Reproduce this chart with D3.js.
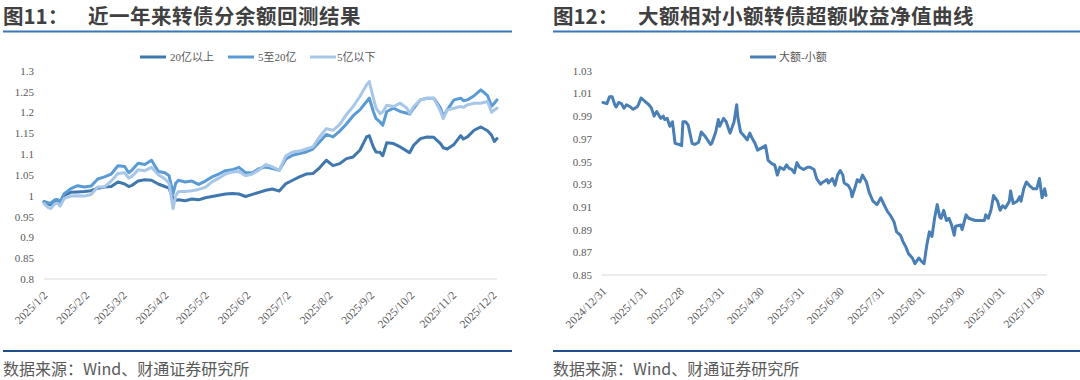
<!DOCTYPE html>
<html><head><meta charset="utf-8">
<script src="https://cdn.jsdelivr.net/npm/d3@7"></script>
<style>
html,body{margin:0;padding:0;background:#fff;}
svg{display:block;}
</style></head>
<body>
<svg id="c" width="1080" height="380"></svg>
<script>
// ---------- Left chart data (图11) ----------
const leftDates = ["2025/1/2","2025/1/5","2025/1/7","2025/1/10","2025/1/12","2025/1/14","2025/1/17","2025/1/22","2025/1/27","2025/2/1","2025/2/6","2025/2/11","2025/2/16","2025/2/21","2025/2/26","2025/3/3","2025/3/6","2025/3/8","2025/3/13","2025/3/18","2025/3/23","2025/3/28","2025/4/2","2025/4/5","2025/4/8","2025/4/10","2025/4/12","2025/4/17","2025/4/22","2025/4/27","2025/5/2","2025/5/7","2025/5/12","2025/5/17","2025/5/22","2025/5/27","2025/6/1","2025/6/6","2025/6/11","2025/6/16","2025/6/21","2025/6/26","2025/7/1","2025/7/6","2025/7/11","2025/7/16","2025/7/21","2025/7/26","2025/7/31","2025/8/5","2025/8/10","2025/8/15","2025/8/20","2025/8/25","2025/8/30","2025/9/1","2025/9/4","2025/9/6","2025/9/9","2025/9/11","2025/9/14","2025/9/19","2025/9/24","2025/9/29","2025/10/1","2025/10/4","2025/10/9","2025/10/14","2025/10/19","2025/10/24","2025/10/26","2025/10/29","2025/11/3","2025/11/8","2025/11/10","2025/11/13","2025/11/18","2025/11/23","2025/11/28","2025/12/1","2025/12/3","2025/12/5"];
const seriesAbove20 = [0.985,0.980,0.978,0.988,0.990,0.984,1.001,1.008,1.009,1.010,1.012,1.018,1.021,1.022,1.033,1.028,1.022,1.024,1.035,1.038,1.037,1.028,1.022,1.018,0.993,0.989,0.990,0.988,0.992,0.990,0.995,0.998,1.001,1.004,1.005,1.004,0.998,1.003,1.008,1.013,1.016,1.011,1.029,1.037,1.045,1.052,1.053,1.067,1.085,1.072,1.077,1.089,1.093,1.109,1.141,1.144,1.117,1.105,1.104,1.096,1.127,1.125,1.117,1.107,1.103,1.121,1.137,1.141,1.140,1.125,1.115,1.112,1.123,1.144,1.136,1.141,1.157,1.165,1.156,1.145,1.130,1.137];
const series5to20 = [0.986,0.983,0.982,0.990,0.991,0.985,1.005,1.017,1.024,1.021,1.023,1.040,1.045,1.052,1.072,1.070,1.055,1.060,1.078,1.075,1.085,1.058,1.055,1.048,1.005,1.030,1.037,1.033,1.035,1.027,1.035,1.045,1.052,1.060,1.062,1.068,1.055,1.055,1.065,1.069,1.065,1.061,1.088,1.097,1.101,1.105,1.112,1.129,1.147,1.141,1.155,1.172,1.192,1.206,1.226,1.234,1.202,1.185,1.177,1.169,1.202,1.210,1.202,1.198,1.196,1.210,1.230,1.234,1.234,1.210,1.190,1.206,1.230,1.234,1.228,1.230,1.240,1.254,1.240,1.215,1.222,1.230];
const seriesBelow5 = [0.981,0.972,0.969,0.980,0.982,0.975,0.993,0.999,1.000,0.999,1.003,1.021,1.021,1.035,1.053,1.055,1.042,1.045,1.062,1.060,1.068,1.050,1.040,1.030,0.969,1.000,1.010,1.010,1.012,1.015,1.020,1.033,1.042,1.052,1.057,1.058,1.048,1.052,1.062,1.075,1.069,1.061,1.096,1.105,1.107,1.112,1.117,1.141,1.161,1.157,1.171,1.195,1.214,1.238,1.266,1.274,1.234,1.210,1.197,1.201,1.217,1.214,1.222,1.210,1.198,1.214,1.230,1.234,1.234,1.202,1.185,1.206,1.210,1.214,1.212,1.218,1.222,1.222,1.226,1.200,1.206,1.210];
const leftSeriesNames = ["20亿以上","5至20亿","5亿以下"];
const leftYTicks = [0.8,0.85,0.9,0.95,1,1.05,1.1,1.15,1.2,1.25,1.3];
const leftXTicks = ["2025/1/2","2025/2/2","2025/3/2","2025/4/2","2025/5/2","2025/6/2","2025/7/2","2025/8/2","2025/9/2","2025/10/2","2025/11/2","2025/12/2"];

// ---------- Right chart data (图12) ----------
const rightDates = ["2024/12/31","2025/1/3","2025/1/5","2025/1/7","2025/1/9","2025/1/10","2025/1/12","2025/1/14","2025/1/16","2025/1/18","2025/1/21","2025/1/23","2025/1/26","2025/1/27","2025/1/29","2025/2/1","2025/2/4","2025/2/6","2025/2/8","2025/2/10","2025/2/13","2025/2/15","2025/2/16","2025/2/18","2025/2/20","2025/2/22","2025/2/24","2025/2/27","2025/3/1","2025/3/2","2025/3/4","2025/3/6","2025/3/9","2025/3/11","2025/3/14","2025/3/16","2025/3/19","2025/3/23","2025/3/24","2025/3/27","2025/3/29","2025/3/30","2025/4/2","2025/4/4","2025/4/6","2025/4/7","2025/4/10","2025/4/12","2025/4/13","2025/4/15","2025/4/18","2025/4/20","2025/4/22","2025/4/24","2025/4/26","2025/4/28","2025/5/1","2025/5/4","2025/5/6","2025/5/9","2025/5/11","2025/5/13","2025/5/15","2025/5/18","2025/5/20","2025/5/22","2025/5/24","2025/5/26","2025/5/28","2025/5/30","2025/6/2","2025/6/5","2025/6/7","2025/6/10","2025/6/12","2025/6/15","2025/6/17","2025/6/20","2025/6/21","2025/6/24","2025/6/26","2025/6/28","2025/6/30","2025/7/2","2025/7/3","2025/7/6","2025/7/8","2025/7/9","2025/7/11","2025/7/13","2025/7/15","2025/7/17","2025/7/20","2025/7/22","2025/7/25","2025/7/28","2025/7/31","2025/8/2","2025/8/5","2025/8/7","2025/8/10","2025/8/12","2025/8/15","2025/8/17","2025/8/19","2025/8/21","2025/8/24","2025/8/26","2025/8/29","2025/8/31","2025/9/2","2025/9/4","2025/9/6","2025/9/8","2025/9/10","2025/9/12","2025/9/14","2025/9/15","2025/9/17","2025/9/19","2025/9/21","2025/9/23","2025/9/25","2025/9/26","2025/9/30","2025/10/1","2025/10/4","2025/10/6","2025/10/11","2025/10/18","2025/10/19","2025/10/21","2025/10/23","2025/10/25","2025/10/28","2025/10/30","2025/11/1","2025/11/3","2025/11/6","2025/11/7","2025/11/9","2025/11/12","2025/11/14","2025/11/15","2025/11/17","2025/11/19","2025/11/22","2025/11/24","2025/11/27","2025/11/29","2025/12/1","2025/12/3","2025/12/4"];
const rightValues = [1.002,1.001,1.007,1.007,1.000,0.998,1.002,1.001,0.997,1.000,0.998,0.996,0.998,1.000,1.006,1.003,1.000,0.997,0.990,0.994,0.988,0.990,0.987,0.988,0.981,0.985,0.966,0.965,0.964,0.985,0.985,0.982,0.966,0.965,0.967,0.976,0.972,0.965,0.966,0.976,0.987,0.981,0.988,0.985,0.978,0.975,0.985,1.000,0.988,0.976,0.972,0.969,0.975,0.970,0.966,0.960,0.962,0.964,0.951,0.948,0.947,0.938,0.945,0.943,0.947,0.944,0.943,0.940,0.949,0.945,0.943,0.945,0.945,0.943,0.935,0.930,0.932,0.934,0.931,0.935,0.929,0.938,0.942,0.938,0.931,0.929,0.925,0.919,0.926,0.934,0.932,0.938,0.932,0.923,0.915,0.912,0.918,0.913,0.906,0.903,0.897,0.888,0.885,0.879,0.875,0.869,0.865,0.860,0.865,0.862,0.860,0.876,0.888,0.884,0.900,0.912,0.901,0.900,0.907,0.898,0.900,0.894,0.885,0.893,0.894,0.890,0.903,0.900,0.898,0.898,0.903,0.900,0.907,0.920,0.915,0.907,0.911,0.909,0.915,0.924,0.913,0.915,0.919,0.915,0.926,0.932,0.928,0.926,0.926,0.935,0.918,0.926,0.920];
const rightSeriesName = "大额-小额";
const rightYTicks = [0.85,0.87,0.89,0.91,0.93,0.95,0.97,0.99,1.01,1.03];
const rightXTicks = ["2024/12/31","2025/1/31","2025/2/28","2025/3/31","2025/4/30","2025/5/31","2025/6/30","2025/7/31","2025/8/31","2025/9/30","2025/10/31","2025/11/30"];

// ---------- helpers ----------
const parse = s => { const [y,m,d] = s.split("/").map(Number); return new Date(y, m-1, d); };
const fmtDate = d => `${d.getFullYear()}/${d.getMonth()+1}/${d.getDate()}`;
const svg = d3.select("#c");
svg.append("rect").attr("width",1080).attr("height",380).attr("fill","#fff");

const TITLE_FONT = "'Noto Sans CJK SC','Noto Sans',sans-serif";
const AXIS_FONT = "'Liberation Serif','Times New Roman','Noto Sans CJK SC',serif";

function frame(x0, x1, num, title) {
  svg.append("text").attr("x", x0).attr("y", 24)
    .attr("font-family", TITLE_FONT).attr("font-weight", "bold").attr("font-size", 20.5)
    .attr("fill", "#404040").text(num);
  svg.append("text").attr("x", x0 + 85).attr("y", 24)
    .attr("font-family", TITLE_FONT).attr("font-weight", "bold").attr("font-size", 20.5)
    .attr("letter-spacing", 0.5).attr("fill", "#404040").text(title);
  svg.append("line").attr("x1", x0).attr("x2", x1).attr("y1", 31.5).attr("y2", 31.5)
    .attr("stroke", "#3b76b8").attr("stroke-width", 2);
  svg.append("line").attr("x1", x0).attr("x2", x1).attr("y1", 351).attr("y2", 351)
    .attr("stroke", "#1f4f8f").attr("stroke-width", 2);
  svg.append("text").attr("x", x0).attr("y", 375)
    .attr("font-family", TITLE_FONT).attr("font-size", 16)
    .attr("fill", "#595959").text("数据来源：Wind、财通证券研究所");
}

function axes(x, y, yTicks, yFmt, xTicks, baseY, gx0, gx1, labelX) {
  svg.append("line").attr("x1", gx0).attr("x2", gx1).attr("y1", baseY).attr("y2", baseY)
    .attr("stroke", "#d9d9d9").attr("stroke-width", 1);
  const ya = svg.append("g").attr("transform", `translate(${labelX},0)`)
    .call(d3.axisLeft(y).tickValues(yTicks).tickFormat(yFmt).tickSize(0).tickPadding(0));
  ya.select(".domain").remove();
  ya.attr("font-family", AXIS_FONT);
  ya.selectAll("text").attr("font-family", AXIS_FONT).attr("font-size", 11).attr("fill", "#595959");
  const xa = svg.append("g").attr("transform", `translate(0,${baseY})`)
    .call(d3.axisBottom(x).tickValues(xTicks.map(parse)).tickFormat(fmtDate).tickSize(0));
  xa.select(".domain").remove();
  xa.attr("font-family", AXIS_FONT);
  xa.selectAll("text").attr("font-family", AXIS_FONT).attr("font-size", 11.5).attr("fill", "#595959")
    .attr("text-anchor", "end").attr("x", 0).attr("y", 0).attr("dy", "0.35em")
    .attr("transform", "translate(1,14) rotate(-45)");
}

// ---------- Left chart ----------
frame(3, 512, "图11：", "近一年来转债分余额回测结果");
{
  const x = d3.scaleTime().domain([parse("2025/1/2"), parse("2025/12/5")]).range([44, 497]);
  const y = d3.scaleLinear().domain([0.8, 1.3]).range([279, 70.7]);
  axes(x, y, leftYTicks, v => String(+v.toFixed(2)), leftXTicks, 279, 44, 497, 34);
  const dates = leftDates.map(parse);
  const colors = ["#3f77ae", "#5b9bd5", "#a8c6e8"];
  const all = [seriesAbove20, series5to20, seriesBelow5];
  const line = d3.line().x((d,i) => x(dates[i])).y(d => y(d));
  all.forEach((s, k) => {
    svg.append("path").datum(s).attr("d", line).attr("fill", "none")
      .attr("stroke", colors[k]).attr("stroke-width", 3)
      .attr("stroke-linejoin", "round").attr("stroke-linecap", "round");
  });
  const lg = [[140, 170], [228, 258], [310, 337]];
  leftSeriesNames.forEach((n, k) => {
    svg.append("line").attr("x1", lg[k][0]).attr("x2", lg[k][0] + 26).attr("y1", 57).attr("y2", 57)
      .attr("stroke", colors[k]).attr("stroke-width", 3);
    svg.append("text").attr("x", lg[k][1]).attr("y", 57).attr("dy", "0.35em")
      .attr("font-family", AXIS_FONT).attr("font-size", 11).attr("fill", "#595959").text(n);
  });
}

// ---------- Right chart ----------
frame(553, 1080, "图12：", "大额相对小额转债超额收益净值曲线");
{
  const x = d3.scaleTime().domain([parse("2024/12/31"), parse("2025/12/4")]).range([603, 1046]);
  const y = d3.scaleLinear().domain([0.85, 1.03]).range([275, 70.7]);
  axes(x, y, rightYTicks, v => v.toFixed(2), rightXTicks, 275, 602, 1047, 592);
  const dates = rightDates.map(parse);
  const line = d3.line().x((d,i) => x(dates[i])).y(d => y(d));
  svg.append("path").datum(rightValues).attr("d", line).attr("fill", "none")
    .attr("stroke", "#4a7fb5").attr("stroke-width", 3)
    .attr("stroke-linejoin", "round").attr("stroke-linecap", "round");
  svg.append("line").attr("x1", 750).attr("x2", 776).attr("y1", 57).attr("y2", 57)
    .attr("stroke", "#4a7fb5").attr("stroke-width", 3);
  svg.append("text").attr("x", 779).attr("y", 57).attr("dy", "0.35em")
    .attr("font-family", AXIS_FONT).attr("font-size", 11).attr("fill", "#595959").text(rightSeriesName);
}
</script>
</body></html>
